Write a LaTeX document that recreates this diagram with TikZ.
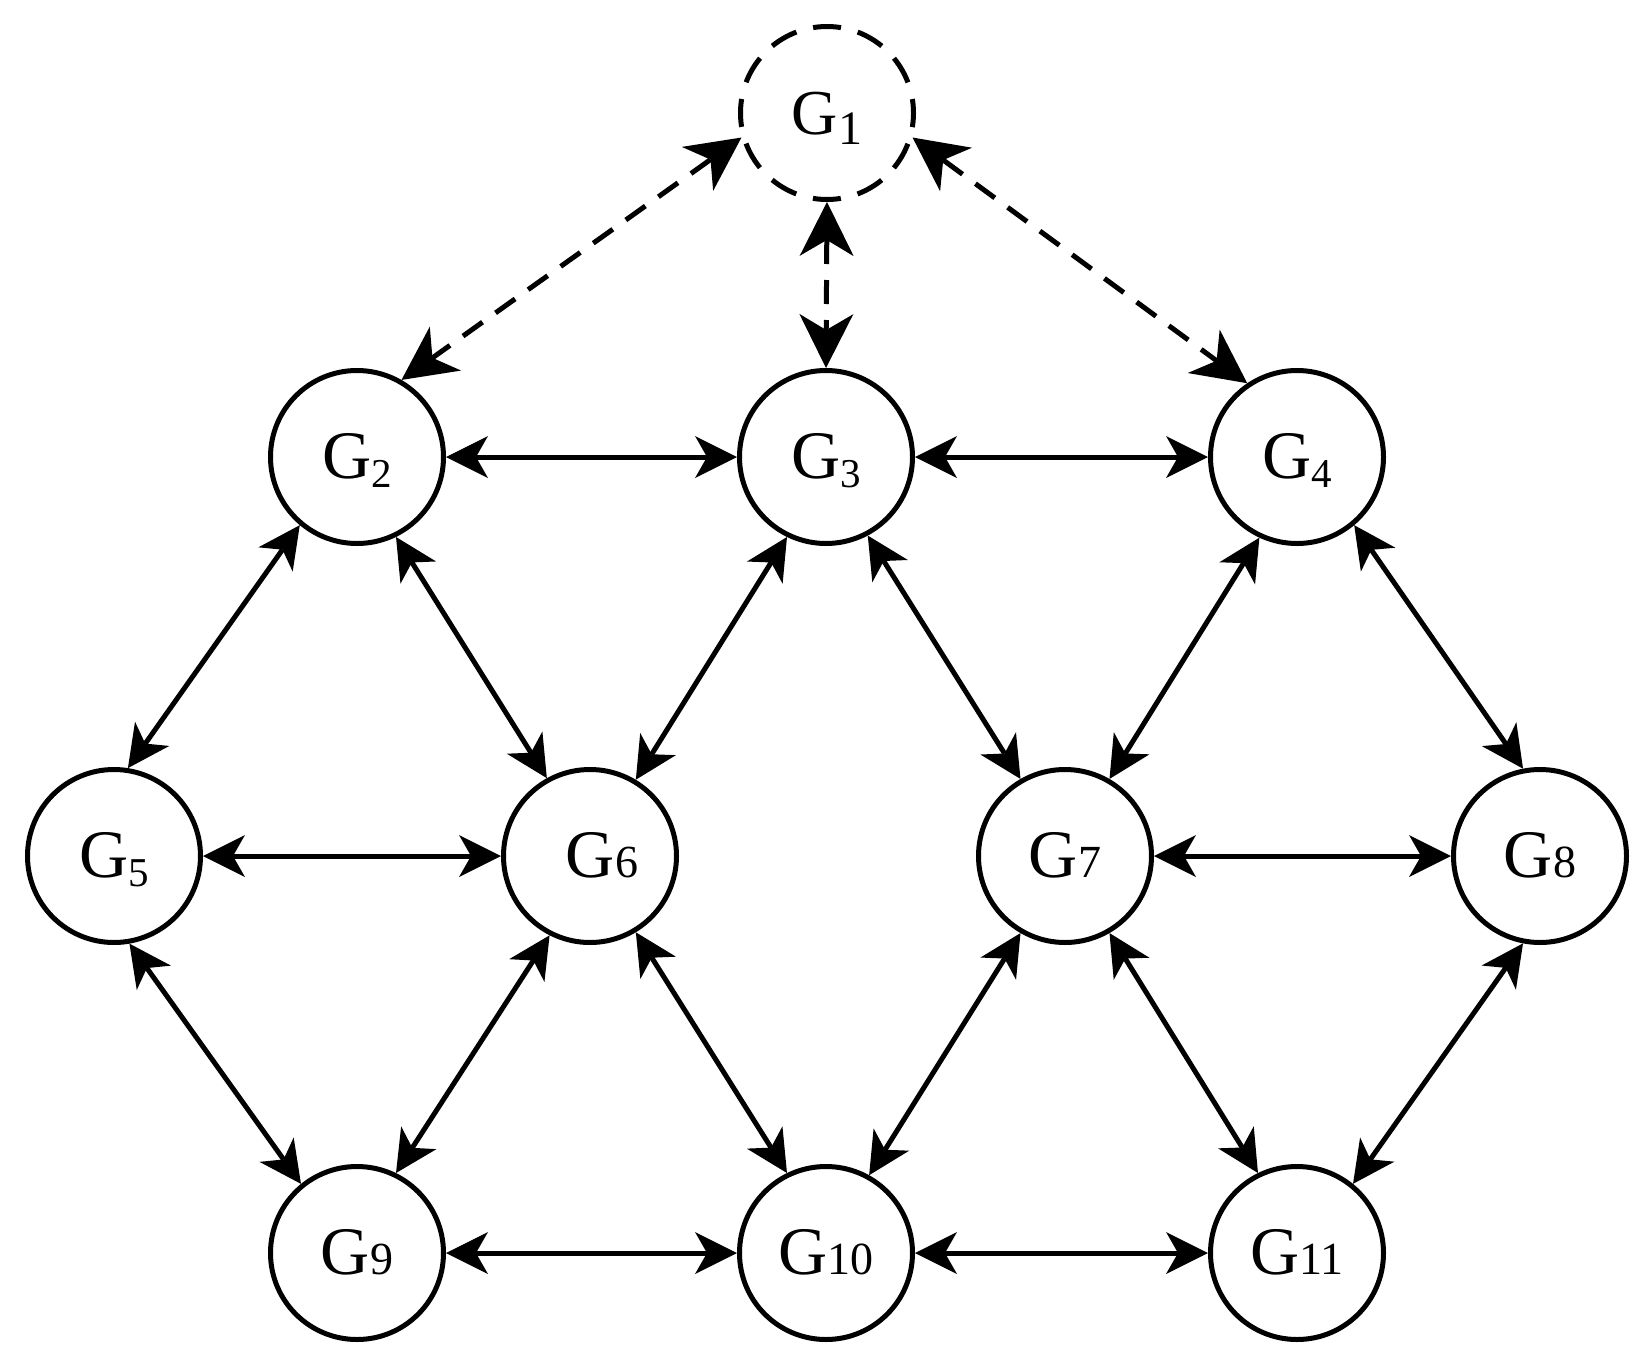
\documentclass[tikz,border=0pt]{standalone}
\usepackage{fontspec}
\setmainfont{Liberation Serif}
\usetikzlibrary{arrows.meta}
\newcommand{\labsub}[1]{G\raisebox{-4.5pt}{\fontsize{20.5pt}{20pt}\selectfont #1}}
\newcommand{\labdig}[1]{G{\fontsize{23pt}{23pt}\selectfont #1}}
\begin{document}
\begin{tikzpicture}[x=0.5pt,y=-0.5pt,
  gnode/.style={circle,draw,line width=2.5pt,minimum size=86.5pt,inner sep=0pt,
    text height=21.8pt,text depth=0pt,font=\fontsize{34pt}{40pt}\selectfont},
  link/.style={line width=2.5pt,
    {Stealth[length=21pt,width=21pt,inset=6pt,line width=0pt]}-{Stealth[length=21pt,width=21pt,inset=6pt,line width=0pt]}},
  dlink/.style={line width=2.5pt,dash pattern=on 12pt off 8pt,
    {Stealth[length=27pt,width=27pt,inset=8pt,line width=0pt]}-{Stealth[length=27pt,width=27pt,inset=8pt,line width=0pt]}}]
\useasboundingbox (0,0) rectangle (1650,1371);

\node[gnode,dash pattern=on 14pt off 8.64pt,dash phase=7pt] (G1) at (827,113)
  {\fontsize{32pt}{36pt}\selectfont G\raisebox{-5pt}{\fontsize{24pt}{24pt}\selectfont 1}};
\node[gnode] (G2) at (357,457) {\labsub{2}};
\node[gnode] (G3) at (826,457) {\labsub{3}};
\node[gnode] (G4) at (1297,457) {\labsub{4}};
\node[gnode] (G5) at (114,856) {\labsub{5}};
\node[gnode] (G6) at (590,856) {\hspace*{12pt}\labdig{6}};
\node[gnode] (G7) at (1065,856) {\labdig{7}};
\node[gnode] (G8) at (1540,856) {\labdig{8}};
\node[gnode] (G9) at (357,1253) {\labdig{9}};
\node[gnode] (G10) at (826,1253) {\labdig{10}};
\node[gnode] (G11) at (1297,1253) {\labdig{11}};

\draw[link] (G2.east) -- (G3.west);
\draw[link] (G3.east) -- (G4.west);
\draw[link] (G5.east) -- (G6.west);
\draw[link] (G7.east) -- (G8.west);
\draw[link] (G9.east) -- (G10.west);
\draw[link] (G10.east) -- (G11.west);

\draw[link] (G2.230) -- (G5.81);
\draw[link] (G2.296) -- (G6.119);
\draw[link] (G3.244) -- (G6.59);
\draw[link] (G3.298) -- (G7.120);
\draw[link] (G4.245) -- (G7.60);
\draw[link] (G4.310) -- (G8.101);
\draw[link] (G5.280) -- (G9.129);
\draw[link] (G6.243) -- (G9.64);
\draw[link] (G6.301) -- (G10.116);
\draw[link] (G7.240) -- (G10.61);
\draw[link] (G7.300) -- (G11.116);
\draw[link] (G8.259) -- (G11.51);

\draw[dlink] (G1.196) -- (G2.60);
\draw[dlink] (G1.south) -- (G3.north);
\draw[dlink] (G1.344) -- (G4.124);
\end{tikzpicture}
\end{document}
